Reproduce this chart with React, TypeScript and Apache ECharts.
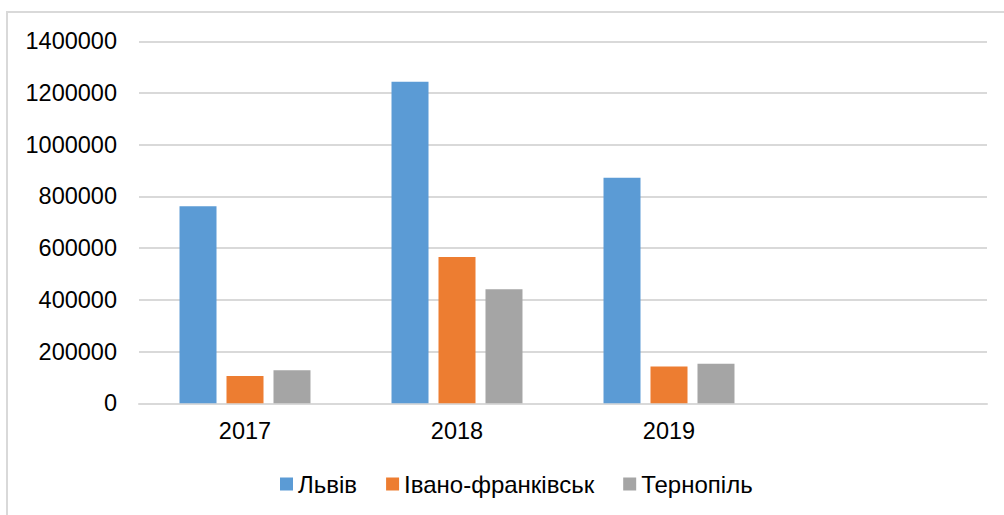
import React, { useEffect, useRef } from "react";
import * as echarts from "echarts";

const categories = ["2017", "2018", "2019", ""];
const seriesNames = ["Львів", "Івано-франківськ", "Тернопіль"];
const lvivValues = [762000, 1244000, 872000];
const ivanoValues = [106000, 566000, 142000];
const ternopilValues = [128000, 441000, 153000];
const colors = ["#5b9bd5", "#ed7d31", "#a5a5a5"];

const FONT = "'Liberation Sans', Arial, sans-serif";

export default function App() {
  const ref = useRef<HTMLDivElement>(null);
  useEffect(() => {
    document.body.style.margin = "0";
    if (!ref.current) return;
    const chart = echarts.init(ref.current, null, { renderer: "svg" });
    const values = [lvivValues, ivanoValues, ternopilValues];
    chart.setOption({
      animation: false,
      backgroundColor: "#ffffff",
      textStyle: { fontFamily: FONT },
      graphic: [
        {
          type: "rect",
          shape: { x: 7, y: 12, width: 1200, height: 700 },
          style: { fill: "none", stroke: "#d9d9d9", lineWidth: 2 },
          silent: true,
        },
      ],
      grid: { left: 139, right: 17, top: 41.3, bottom: 111.7, containLabel: false },
      legend: {
        left: 275,
        top: 467,
        itemWidth: 13,
        itemHeight: 13,
        itemGap: 29,
        icon: "rect",
        textStyle: { fontSize: 24, color: "#000000", fontFamily: FONT },
        data: seriesNames,
      },
      xAxis: {
        type: "category",
        data: categories,
        axisLine: { show: true, lineStyle: { color: "#d9d9d9", width: 2 } },
        axisTick: { show: false },
        axisLabel: { fontSize: 23.5, color: "#000000", margin: 16, fontFamily: FONT },
        splitLine: { show: false },
      },
      yAxis: {
        type: "value",
        min: 0,
        max: 1400000,
        interval: 200000,
        axisLine: { show: false },
        axisTick: { show: false },
        axisLabel: {
          fontSize: 23.5,
          color: "#000000",
          margin: 22,
          fontFamily: FONT,
          formatter: (v: number) => String(v),
        },
        splitLine: { lineStyle: { color: "#d9d9d9", width: 2 } },
      },
      series: seriesNames.map((name, i) => ({
        name,
        type: "bar",
        data: values[i],
        barWidth: 37,
        barGap: "27%",
        itemStyle: { color: colors[i] },
      })),
    });
    return () => chart.dispose();
  }, []);
  return <div ref={ref} style={{ width: 1004, height: 515 }} />;
}
